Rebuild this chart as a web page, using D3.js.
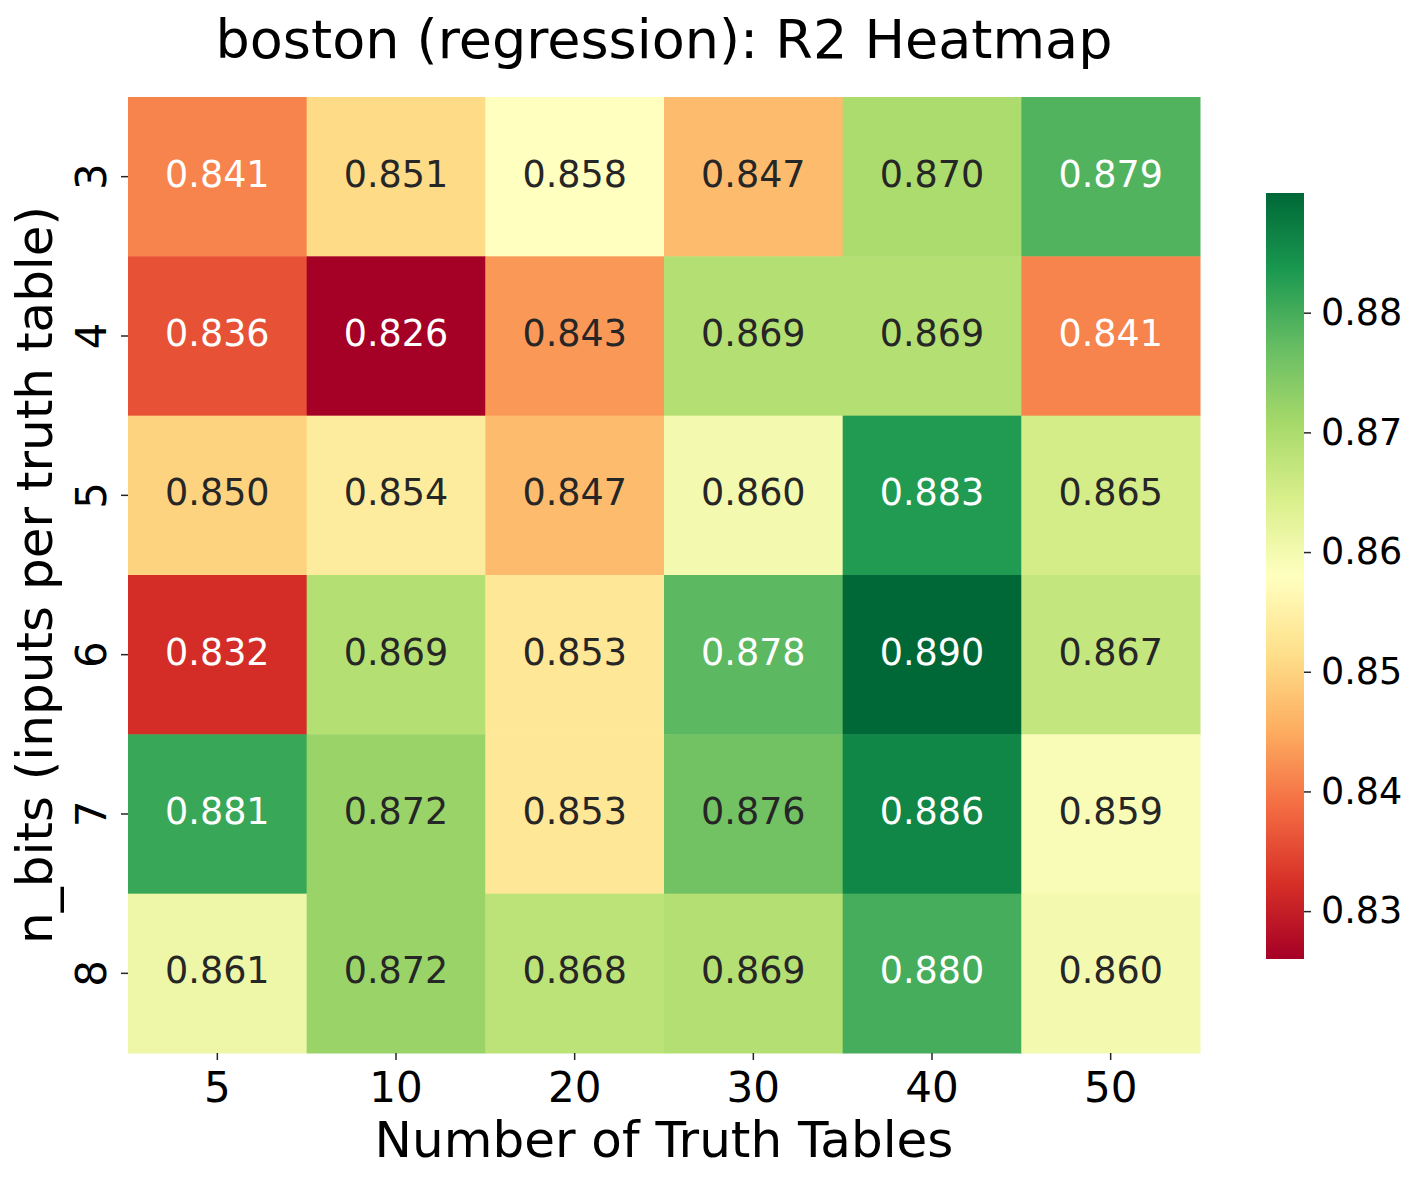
<!DOCTYPE html>
<html>
<head>
<meta charset="utf-8">
<script src="https://cdn.jsdelivr.net/npm/d3@7"></script>
<style>
  body { margin: 0; background: #fff; }
  text { font-family: "DejaVu Sans", sans-serif; }
</style>
</head>
<body>
<div id="heatmap"></div>
<script>
// data
var nTables = ["5", "10", "20", "30", "40", "50"];
var nBits = ["3", "4", "5", "6", "7", "8"];
var r2 = [
    [0.841, 0.851, 0.858, 0.847, 0.870, 0.879],
    [0.836, 0.826, 0.843, 0.869, 0.869, 0.841],
    [0.850, 0.854, 0.847, 0.860, 0.883, 0.865],
    [0.832, 0.869, 0.853, 0.878, 0.890, 0.867],
    [0.881, 0.872, 0.853, 0.876, 0.886, 0.859],
    [0.861, 0.872, 0.868, 0.869, 0.880, 0.860]
];
var cbarTicks = [0.83, 0.84, 0.85, 0.86, 0.87, 0.88];

var W = 1417, H = 1181;
var margin = {top: 97, left: 128},
    width = 1072,
    height = 956;

var svg = d3.select("#heatmap").append("svg")
    .attr("width", W)
    .attr("height", H);

var g = svg.append("g")
    .attr("transform", "translate(" + margin.left + "," + margin.top + ")");

var xScale = d3.scaleBand().domain(nTables).range([0, width]);
var yScale = d3.scaleBand().domain(nBits).range([0, height]);

// RdYlGn, linear between the 11 brewer colours (like matplotlib)
var rdylgn = ["#a50026","#d73027","#f46d43","#fdae61","#fee08b","#ffffbf",
              "#d9ef8b","#a6d96a","#66bd63","#1a9850","#006837"];
var vmin = 0.826, vmax = 0.890;
var color = d3.scaleLinear()
    .domain(rdylgn.map(function(c, i) { return vmin + (vmax - vmin) * i / 10; }))
    .range(rdylgn)
    .clamp(true);

function luminance(c) {
    var rgb = d3.rgb(c);
    var ch = [rgb.r, rgb.g, rgb.b].map(function(v) {
        v /= 255;
        return v <= 0.03928 ? v / 12.92 : Math.pow((v + 0.055) / 1.055, 2.4);
    });
    return 0.2126 * ch[0] + 0.7152 * ch[1] + 0.0722 * ch[2];
}

var cells = [];
r2.forEach(function(row, i) {
    row.forEach(function(v, j) {
        cells.push({bits: nBits[i], tables: nTables[j], value: v});
    });
});

g.selectAll("rect.cell")
    .data(cells)
    .enter().append("rect")
    .attr("class", "cell")
    .attr("x", function(d) { return xScale(d.tables); })
    .attr("y", function(d) { return yScale(d.bits); })
    .attr("width", xScale.bandwidth() + 0.5)
    .attr("height", yScale.bandwidth() + 0.5)
    .attr("fill", function(d) { return color(d.value); });

g.selectAll("text.annot")
    .data(cells)
    .enter().append("text")
    .attr("class", "annot")
    .attr("x", function(d) { return xScale(d.tables) + xScale.bandwidth() / 2; })
    .attr("y", function(d) { return yScale(d.bits) + yScale.bandwidth() / 2; })
    .attr("dy", "0.27em")
    .attr("text-anchor", "middle")
    .style("font-size", "36.5px")
    .style("fill", function(d) { return luminance(color(d.value)) > 0.408 ? "#262626" : "#ffffff"; })
    .text(function(d) { return d.value.toFixed(3); });

// axes
var xAxis = g.append("g")
    .attr("transform", "translate(0," + height + ")")
    .call(d3.axisBottom(xScale).tickSize(7));
xAxis.select(".domain").remove();
xAxis.selectAll(".tick line").attr("stroke", "#262626").attr("stroke-width", 1.5);
xAxis.selectAll(".tick text")
    .attr("fill", "#000")
    .attr("y", 49).attr("dy", null)
    .style("font-size", "42px")
    .style("font-family", "DejaVu Sans");

var yAxis = g.append("g")
    .call(d3.axisLeft(yScale).tickSize(7));
yAxis.select(".domain").remove();
yAxis.selectAll(".tick line").attr("stroke", "#262626").attr("stroke-width", 1.5);
yAxis.selectAll(".tick text")
    .attr("fill", "#000")
    .attr("x", null).attr("dy", null)
    .attr("text-anchor", "middle")
    .attr("transform", "translate(-22,0) rotate(-90)")
    .style("font-size", "42px")
    .style("font-family", "DejaVu Sans");

// labels
svg.append("text")
    .attr("x", margin.left + width / 2)
    .attr("y", 58)
    .attr("text-anchor", "middle")
    .style("font-size", "54px")
    .text("boston (regression): R2 Heatmap");

svg.append("text")
    .attr("x", margin.left + width / 2)
    .attr("y", 1157)
    .attr("text-anchor", "middle")
    .style("font-size", "50px")
    .text("Number of Truth Tables");

svg.append("text")
    .attr("transform", "translate(52," + (margin.top + height / 2) + ") rotate(-90)")
    .attr("text-anchor", "middle")
    .style("font-size", "50px")
    .text("n_bits (inputs per truth table)");

// colorbar
var cbX = 1266, cbW = 38, cbTop = 193, cbBottom = 959;
var cbScale = d3.scaleLinear().domain([vmin, vmax]).range([cbBottom, cbTop]);

var grad = svg.append("defs").append("linearGradient")
    .attr("id", "cbarGrad")
    .attr("x1", 0).attr("y1", 1).attr("x2", 0).attr("y2", 0);
grad.selectAll("stop")
    .data(rdylgn)
    .enter().append("stop")
    .attr("offset", function(d, i) { return (i * 10) + "%"; })
    .attr("stop-color", function(d) { return d; });

svg.append("rect")
    .attr("x", cbX)
    .attr("y", cbTop)
    .attr("width", cbW)
    .attr("height", cbBottom - cbTop)
    .attr("fill", "url(#cbarGrad)");

var cbAxis = svg.append("g")
    .attr("transform", "translate(" + (cbX + cbW) + ",0)")
    .call(d3.axisRight(cbScale).tickValues(cbarTicks).tickFormat(d3.format(".2f")).tickSize(7).tickPadding(10));
cbAxis.select(".domain").remove();
cbAxis.selectAll(".tick line").attr("stroke", "#262626").attr("stroke-width", 1.5);
cbAxis.selectAll(".tick text")
    .attr("fill", "#000")
    .style("font-size", "36.5px")
    .style("font-family", "DejaVu Sans");
</script>
</body>
</html>
